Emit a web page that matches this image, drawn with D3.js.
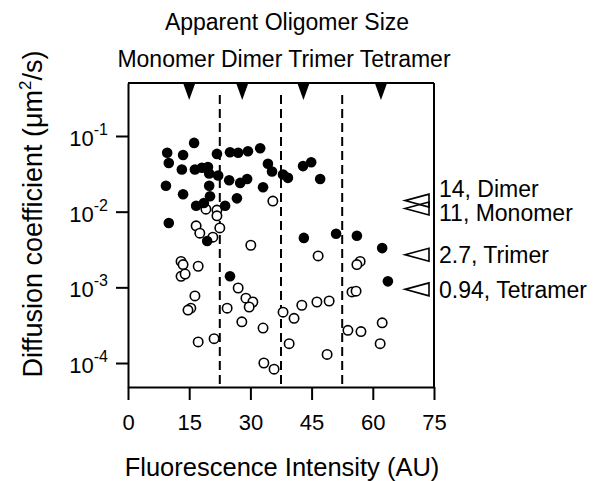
<!DOCTYPE html>
<html><head><meta charset="utf-8">
<script src="https://cdnjs.cloudflare.com/ajax/libs/d3/7.8.5/d3.min.js"></script>
<style>
body{margin:0;background:#fff}
svg{display:block}
text{font-family:"Liberation Sans",Arial,Helvetica,sans-serif;fill:#000}
</style>
</head><body>
<svg id="chart" width="604" height="481"></svg>
<script>
// ---- data ----
const filledIntensity = [16.2,9.6,13.5,10.0,13.2,16.4,18.1,19.6,19.9,22.1,21.8,25.0,27.0,29.4,32.4,24.8,27.5,29.2,9.3,13.5,19.9,20.1,18.6,16.7,23.8,26.7,10.0,19.4,34.3,35.3,38.0,39.2,42.9,44.9,47.1,33.1,43.1,51.0,56.1,62.3,63.7,25.0];
const filledDiffusion = [0.081,0.060,0.056,0.044,0.036,0.036,0.038,0.039,0.032,0.030,0.058,0.061,0.060,0.063,0.069,0.026,0.024,0.027,0.022,0.017,0.022,0.016,0.013,0.012,0.012,0.015,0.0071,0.0041,0.043,0.034,0.031,0.028,0.040,0.045,0.027,0.021,0.0045,0.0051,0.0048,0.0033,0.0012,0.0014];
const openIntensity = [19.1,21.8,21.8,16.7,17.6,20.8,22.5,35.5,30.1,46.6,56.9,56.1,13.0,13.5,17.2,13.0,14.0,27.0,28.9,30.6,29.7,16.4,15.4,14.7,24.3,27.9,33.1,38.0,40.7,42.6,46.3,49.3,54.9,55.9,39.5,48.8,33.3,35.8,53.9,57.1,62.3,61.8,17.2,21.1];
const openDiffusion = [0.0108,0.0105,0.0088,0.0065,0.0052,0.0046,0.0061,0.0138,0.0036,0.0026,0.0022,0.0020,0.0022,0.0020,0.0019,0.0014,0.0015,0.00098,0.00072,0.00064,0.00055,0.00077,0.00053,0.00050,0.00053,0.00035,0.00029,0.00047,0.00039,0.00058,0.00064,0.00066,0.00087,0.00089,0.00018,0.00013,0.00010,0.000083,0.00027,0.00026,0.00034,0.00018,0.00019,0.00021];
const xTickValues = [0,15,30,45,60,75];
const yTickExponents = [-1,-2,-3,-4];
const oligomerNames = ["Monomer","Dimer","Trimer","Tetramer"];
const oligomerIntensity = [15,28,43,62];
const boundaryIntensity = [22.5,37.5,52.5];
const refDiffusion = [0.014,0.011,0.0027,0.00094];
const refLabels = ["14, Dimer","11, Monomer","2.7, Trimer","0.94, Tetramer"];
const refLabelShift = [-4,12,8,9];

// ---- layout ----
const L = 128, R = 434, T = 83, B = 387;
const svg = d3.select("#chart");
const x = d3.scaleLinear().domain([0,75]).range([L,R]);
const y = d3.scaleLog().domain([Math.pow(10,-4.317), Math.pow(10,-0.2996)]).range([B,T]);

// axes
const xAxis = svg.append("g").attr("transform",`translate(0,${B})`)
  .call(d3.axisBottom(x).tickValues(xTickValues).tickSize(13).tickSizeOuter(0).tickPadding(14));
xAxis.selectAll("path,line").attr("stroke","#000").attr("stroke-width",2);
xAxis.selectAll("text").attr("font-size",22).attr("font-family","Liberation Sans, Arial, sans-serif").attr("fill","#000");

const yAxis = svg.append("g").attr("transform",`translate(${L},0)`)
  .call(d3.axisLeft(y).tickValues(yTickExponents.map(e=>Math.pow(10,e))).tickSize(12).tickSizeOuter(0).tickFormat(""));
yAxis.selectAll("path,line").attr("stroke","#000").attr("stroke-width",2);

// y tick labels with superscripts
yTickExponents.forEach(e=>{
  const yy = y(Math.pow(10,e));
  const t = svg.append("text").attr("x",108).attr("y",yy+10).attr("text-anchor","end").attr("font-size",22);
  t.append("tspan").text("10");
  t.append("tspan").attr("font-size",16).attr("dy",-11).text("-" + Math.abs(e));
});

// frame top and right
svg.append("line").attr("x1",L).attr("x2",R).attr("y1",T).attr("y2",T).attr("stroke","#000").attr("stroke-width",2);
svg.append("line").attr("x1",R).attr("x2",R).attr("y1",T).attr("y2",B).attr("stroke","#000").attr("stroke-width",2);

// dashed boundaries
svg.append("g").selectAll("line").data(boundaryIntensity).join("line")
  .attr("x1",d=>x(d)).attr("x2",d=>x(d)).attr("y1",T+12).attr("y2",B)
  .attr("stroke","#000").attr("stroke-width",2).attr("stroke-dasharray","9,5");

// top filled triangles
svg.append("g").selectAll("path").data(oligomerIntensity).join("path")
  .attr("d",d=>{const cx=x(d);return `M${cx-6.5},${T-1}L${cx+6.5},${T-1}L${cx},${T+17}Z`;})
  .attr("fill","#000");

// points
const open = openIntensity.map((v,i)=>({x:v,y:openDiffusion[i]}));
const filled = filledIntensity.map((v,i)=>({x:v,y:filledDiffusion[i]}));
svg.append("g").selectAll("circle").data(open).join("circle")
  .attr("cx",d=>x(d.x)).attr("cy",d=>y(d.y)).attr("r",4.7)
  .attr("fill","#fff").attr("stroke","#000").attr("stroke-width",1.6);
svg.append("g").selectAll("circle").data(filled).join("circle")
  .attr("cx",d=>x(d.x)).attr("cy",d=>y(d.y)).attr("r",5.3)
  .attr("fill","#000");

// reference open triangles on right
const triBase = R - 5, triTip = R - 29;
svg.append("g").selectAll("path").data(refDiffusion).join("path")
  .attr("d",d=>{const cy=y(d);return `M${triTip},${cy}L${triBase},${cy-6.5}L${triBase},${cy+6.5}Z`;})
  .attr("fill","none").attr("stroke","#000").attr("stroke-width",1.6);
svg.append("g").selectAll("text").data(refDiffusion).join("text")
  .attr("x",R+5).attr("y",(d,i)=>y(d)+refLabelShift[i]).attr("font-size",23)
  .text((d,i)=>refLabels[i]);

// titles
svg.append("text").attr("x",287).attr("y",30).attr("text-anchor","middle").attr("font-size",23).text("Apparent Oligomer Size");
svg.append("text").attr("x",284).attr("y",67).attr("text-anchor","middle").attr("font-size",23).text(oligomerNames.join(" "));
svg.append("text").attr("x",282).attr("y",476).attr("text-anchor","middle").attr("font-size",25.5).text("Fluorescence Intensity (AU)");
const yt = svg.append("text").attr("transform","translate(42,214) rotate(-90)").attr("text-anchor","middle").attr("font-size",27);
yt.append("tspan").text("Diffusion coefficient (\u03bcm");
yt.append("tspan").attr("font-size",17).attr("dy",-11).text("2");
yt.append("tspan").attr("dy",11).text("/s)");
</script>
</body></html>
